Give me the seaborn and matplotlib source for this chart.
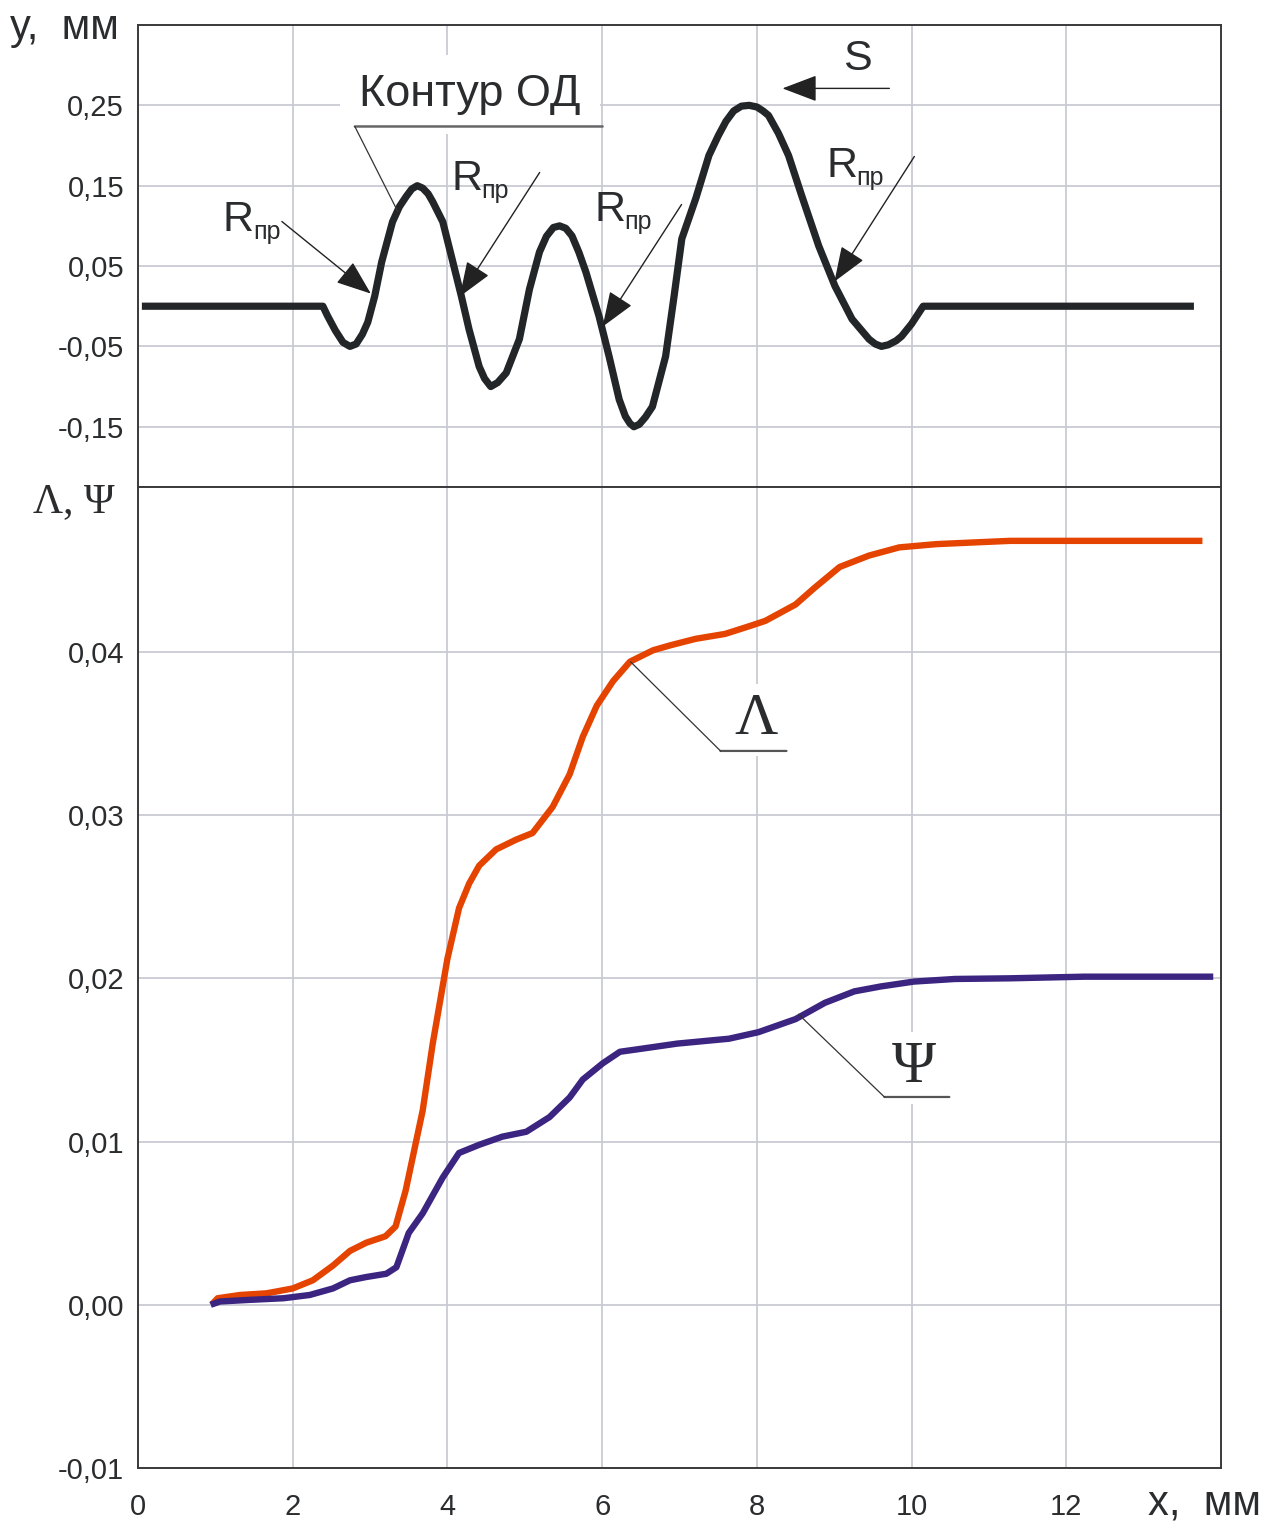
import matplotlib
matplotlib.use("Agg")
import matplotlib.pyplot as plt
from matplotlib.ticker import MultipleLocator, FixedLocator, FuncFormatter
import seaborn as sns

# ---------------- data ----------------
contour_x = [0.05, 0.5, 1.0, 1.5, 2.0, 2.39, 2.45, 2.55, 2.65, 2.74, 2.82, 2.90, 2.97, 3.06,
             3.15, 3.29, 3.38, 3.47, 3.54, 3.61, 3.68, 3.75, 3.81, 3.94, 4.07, 4.18, 4.28,
             4.41, 4.48, 4.56, 4.65, 4.76, 4.93, 5.06, 5.19, 5.28, 5.37, 5.45, 5.53, 5.61,
             5.70, 5.79, 5.96, 6.09, 6.22, 6.30, 6.36, 6.41, 6.48, 6.56, 6.65, 6.82, 6.93,
             7.03, 7.21, 7.38, 7.50, 7.60, 7.70, 7.80, 7.90, 8.00, 8.08, 8.15, 8.28, 8.41,
             8.58, 8.80, 9.01, 9.23, 9.45, 9.53, 9.61, 9.70, 9.80, 9.87, 10.0, 10.15, 10.5,
             11.0, 12.0, 13.0, 13.65]
contour_y = [0.0, 0.0, 0.0, 0.0, 0.0, 0.0, -0.012, -0.03, -0.045, -0.05, -0.047, -0.035,
             -0.02, 0.0125, 0.055, 0.105, 0.124, 0.137, 0.146, 0.15, 0.147, 0.14, 0.13,
             0.105, 0.055, 0.0125, -0.029, -0.075, -0.09, -0.10, -0.095, -0.083, -0.041,
             0.021, 0.0675, 0.087, 0.098, 0.10, 0.097, 0.0875, 0.067, 0.0425, -0.0125,
             -0.0625, -0.116, -0.137, -0.146, -0.15, -0.147, -0.138, -0.125, -0.0625, 0.0125,
             0.084, 0.134, 0.1875, 0.212, 0.23, 0.243, 0.249, 0.25, 0.248, 0.243, 0.2375,
             0.215, 0.1875, 0.1375, 0.075, 0.025, -0.016, -0.041, -0.047, -0.05, -0.048,
             -0.043, -0.0375, -0.022, 0.0, 0.0, 0.0, 0.0, 0.0, 0.0]

lam_x = [0.95, 1.03, 1.32, 1.66, 2.0, 2.26, 2.52, 2.74, 2.95, 3.2, 3.33, 3.46, 3.68, 3.81,
         4.0, 4.15, 4.28, 4.41, 4.63, 4.89, 5.10, 5.36, 5.58, 5.75, 5.93, 6.14, 6.36, 6.66,
         6.88, 7.21, 7.59, 7.92, 8.11, 8.50, 8.74, 9.07, 9.45, 9.84, 10.32, 10.79, 11.27,
         12.47, 13.76]
lam_y = [0.0, 0.0004, 0.0006, 0.0007, 0.001, 0.0015, 0.0024, 0.0033, 0.0038, 0.0042, 0.0048,
         0.007, 0.0119, 0.016, 0.0212, 0.0243, 0.0258, 0.0269, 0.0279, 0.0285, 0.0289,
         0.0305, 0.0325, 0.0348, 0.0367, 0.0382, 0.0394, 0.0401, 0.0404, 0.0408, 0.0411,
         0.0416, 0.0419, 0.0429, 0.0439, 0.0452, 0.0459, 0.0464, 0.0466, 0.0467, 0.0468,
         0.0468, 0.0468]

psi_x = [0.94, 1.06, 1.44, 1.88, 2.22, 2.52, 2.74, 2.95, 3.21, 3.34, 3.50, 3.68, 3.94, 4.15,
         4.41, 4.71, 5.02, 5.32, 5.58, 5.75, 6.01, 6.23, 6.53, 6.97, 7.64, 8.02, 8.50, 8.88,
         9.26, 9.60, 10.03, 10.56, 11.27, 12.23, 13.90]
psi_y = [0.0, 0.0002, 0.0003, 0.0004, 0.0006, 0.001, 0.0015, 0.0017, 0.0019, 0.0023, 0.0044,
         0.0056, 0.0078, 0.0093, 0.0098, 0.0103, 0.0106, 0.0115, 0.0127, 0.0138, 0.0148,
         0.0155, 0.0157, 0.0160, 0.0163, 0.0167, 0.0175, 0.0185, 0.0192, 0.0195, 0.0198,
         0.01996, 0.0200, 0.0201, 0.0201]

top_yticks = [-0.15, -0.05, 0.05, 0.15, 0.25]
bot_yticks = [-0.01, 0.0, 0.01, 0.02, 0.03, 0.04]
xticks = [0, 2, 4, 6, 8, 10, 12]

# ---------------- style ----------------
sns.set_style("white")
plt.rcParams["font.family"] = ["Liberation Sans", "DejaVu Sans"]
SERIF = ["Liberation Serif", "DejaVu Serif"]

DARK = "#2a2c2e"
GRID = "#c9cad3"
ORANGE = "#e54400"
PURPLE = "#3b2580"
CONTOUR = "#222629"

fig = plt.figure(figsize=(12.63, 15.22), dpi=100)
L, W = 138 / 1263, 1083 / 1263
ax1 = fig.add_axes([L, 1 - 487 / 1522, W, 462 / 1522])
ax2 = fig.add_axes([L, 1 - 1468 / 1522, W, 981 / 1522])

comma = FuncFormatter(lambda v, p: f"{v:.2f}".replace(".", ","))

for ax in (ax1, ax2):
    ax.set_xlim(0, 14)
    ax.set_axisbelow(True)
    ax.grid(True, which="major", color=GRID, linewidth=1.3)
    for s in ax.spines.values():
        s.set_color("#3a3a3a")
        s.set_linewidth(1.4)
    ax.xaxis.set_major_locator(FixedLocator(xticks))
    ax.tick_params(axis="both", which="major", direction="in", length=8, width=1.1,
                   color=DARK, labelsize=21, labelcolor=DARK)
    ax.tick_params(axis="both", which="minor", direction="in", length=4, width=1.0,
                   color=DARK)
    ax.tick_params(axis="y", pad=10)
    ax.tick_params(axis="x", pad=18)
    ax.yaxis.set_major_formatter(comma)

# top panel
ax1.set_ylim(-0.225, 0.35)
ax1.yaxis.set_major_locator(FixedLocator(top_yticks))
ax1.yaxis.set_minor_locator(MultipleLocator(0.025))
ax1.tick_params(axis="x", which="both", bottom=False, labelbottom=False)
sns.lineplot(x=contour_x, y=contour_y, ax=ax1, color=CONTOUR, linewidth=5.2,
             sort=False, estimator=None, zorder=4)
for ln in ax1.lines:
    ln.set_solid_capstyle("butt")
    ln.set_solid_joinstyle("round")
ax1.set_xlabel("")
ax1.set_ylabel("")

# bottom panel
ax2.set_ylim(-0.01, 0.0501)
ax2.yaxis.set_major_locator(FixedLocator(bot_yticks))
ax2.yaxis.set_minor_locator(MultipleLocator(0.0025))
ax2.xaxis.set_minor_locator(MultipleLocator(1))
ax2.xaxis.set_major_formatter(FuncFormatter(lambda v, p: f"{v:.0f}"))
sns.lineplot(x=lam_x, y=lam_y, ax=ax2, color=ORANGE, linewidth=4.6,
             sort=False, estimator=None, zorder=4)
sns.lineplot(x=psi_x, y=psi_y, ax=ax2, color=PURPLE, linewidth=4.6,
             sort=False, estimator=None, zorder=4)
for ln in ax2.lines:
    ln.set_solid_capstyle("butt")
    ln.set_solid_joinstyle("round")
ax2.set_xlabel("")
ax2.set_ylabel("")

# ---------------- annotations: top ----------------
thin = dict(arrowstyle="-", color="#333333", lw=0.9, shrinkA=0, shrinkB=0)
ax1.text(4.29, 0.2636, "Контур ОД", fontsize=32.5, color=DARK, ha="center", va="center",
         zorder=3, bbox=dict(boxstyle="square,pad=0.42", facecolor="white", edgecolor="none"))
ax1.annotate("", xy=(6.006, 0.2237), xytext=(2.803, 0.2237),
             arrowprops=dict(arrowstyle="-", color="#666666", lw=1.8, shrinkA=0, shrinkB=0),
             zorder=5)
ax1.annotate("", xy=(3.358, 0.1179), xytext=(2.803, 0.2237), arrowprops=thin, zorder=5)

ax1.text(9.30, 0.3073, "S", fontsize=31, color=DARK, ha="center", va="center", zorder=5)
arrow = dict(arrowstyle="-|>,head_length=1.0,head_width=0.38", color="#222222", lw=1.0,
             shrinkA=0, shrinkB=0, mutation_scale=22)
ax1.annotate("", xy=(8.331, 0.2711), xytext=(9.713, 0.2711), arrowprops=arrow, zorder=5)


def tx(px):
    return (px - 138) / 77.42


def ty(py):
    return (306.6 - py) / 802.5


r_labels = [((223, 231), (282, 222), (371, 294)),
            ((452, 191), (540, 173), (460, 297)),
            ((595, 221), (682, 205), (603, 327)),
            ((827, 178), (915, 157), (835, 282))]
for (rx, ry), (sx, sy), (ex, ey) in r_labels:
    ax1.text(tx(rx), ty(ry), "R", fontsize=31, color=DARK, ha="left", va="baseline", zorder=5)
    ax1.text(tx(rx + 30), ty(ry + 8), "пр", fontsize=18, color=DARK, ha="left",
             va="baseline", zorder=5)
    ax1.annotate("", xy=(tx(ex), ty(ey)), xytext=(tx(sx), ty(sy)), arrowprops=arrow, zorder=5)

# ---------------- annotations: bottom ----------------
ax2.text(7.995, 0.03583, "Λ", fontsize=43, family=SERIF, color=DARK, ha="center",
         va="center", zorder=3,
         bbox=dict(boxstyle="square,pad=0.15", facecolor="white", edgecolor="none"))
ax2.annotate("", xy=(8.383, 0.03393), xytext=(7.530, 0.03393),
             arrowprops=dict(arrowstyle="-", color="#555555", lw=1.6, shrinkA=0, shrinkB=0),
             zorder=5)
ax2.annotate("", xy=(6.368, 0.03939), xytext=(7.530, 0.03393), arrowprops=thin, zorder=5)

ax2.text(10.036, 0.01451, "Ψ", fontsize=43, family=SERIF, color=DARK, ha="center",
         va="center", zorder=3,
         bbox=dict(boxstyle="square,pad=0.15", facecolor="white", edgecolor="none"))
ax2.annotate("", xy=(10.488, 0.01273), xytext=(9.649, 0.01273),
             arrowprops=dict(arrowstyle="-", color="#555555", lw=1.6, shrinkA=0, shrinkB=0),
             zorder=5)
ax2.annotate("", xy=(8.538, 0.0178), xytext=(9.649, 0.01273), arrowprops=thin, zorder=5)

# ---------------- axis titles ----------------
fig.text(10 / 1263, 1 - 39 / 1522, "у,  мм", fontsize=30, color=DARK, ha="left",
         va="baseline")
fig.text(33 / 1263, 1 - 512 / 1522, "Λ, Ψ", fontsize=30, family=SERIF, color=DARK,
         ha="left", va="baseline")
fig.text(1148 / 1263, 1 - 1514 / 1522, "х,  мм", fontsize=30, color=DARK, ha="left",
         va="baseline")

fig.savefig("out.png", dpi=100, facecolor="white")
